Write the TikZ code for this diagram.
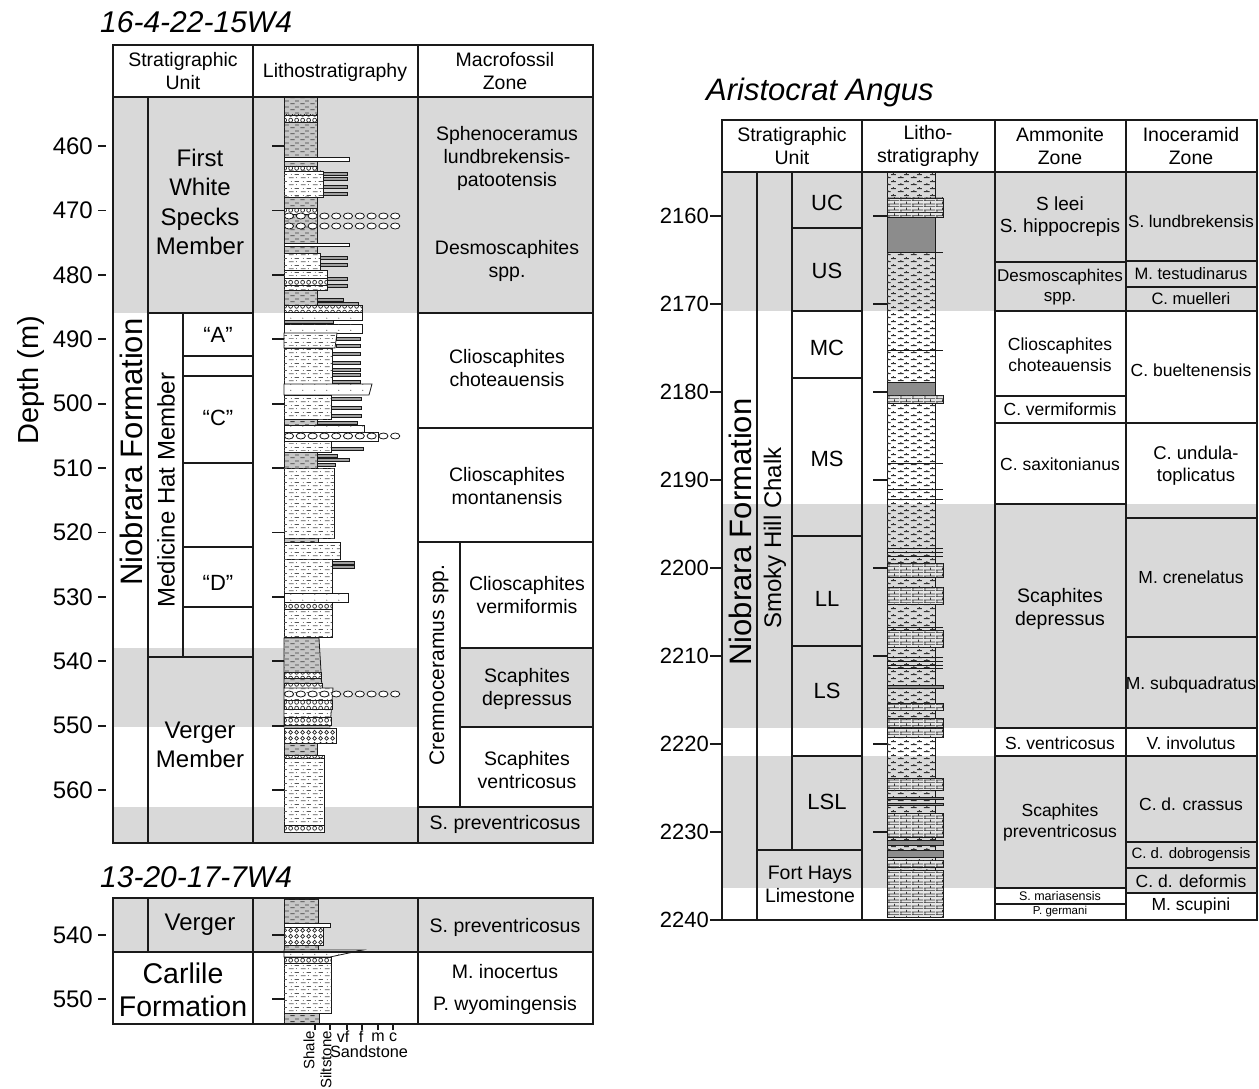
\documentclass[tikz,border=0pt]{standalone}
\usepackage{fontspec}
\setmainfont{Liberation Sans}
\usetikzlibrary{patterns}
\definecolor{band}{HTML}{D9D9D9}
\definecolor{ln}{HTML}{1A1A1A}
\definecolor{shg}{HTML}{C6C6C6}
\definecolor{dkg}{HTML}{8C8C8C}
\definecolor{thg}{HTML}{A0A0A0}
\newcommand{\fsz}[2]{\fontsize{#1}{#2}\selectfont}
\pgfdeclarepatternformonly{shaleP}{\pgfqpoint{0pt}{0pt}}{\pgfqpoint{10pt}{6pt}}{\pgfqpoint{10pt}{6pt}}{%
  \pgfsetlinewidth{0.9pt}%
  \pgfpathmoveto{\pgfqpoint{0.5pt}{1.5pt}}\pgfpathlineto{\pgfqpoint{5pt}{1.5pt}}%
  \pgfpathmoveto{\pgfqpoint{5.5pt}{4.5pt}}\pgfpathlineto{\pgfqpoint{9.5pt}{4.5pt}}%
  \pgfusepath{stroke}}
\pgfdeclarepatternformonly{siltP}{\pgfqpoint{0pt}{0pt}}{\pgfqpoint{12pt}{7pt}}{\pgfqpoint{12pt}{7pt}}{%
  \pgfsetlinewidth{0.8pt}%
  \pgfpathmoveto{\pgfqpoint{1pt}{1.5pt}}\pgfpathlineto{\pgfqpoint{6pt}{1.5pt}}%
  \pgfpathmoveto{\pgfqpoint{7pt}{5pt}}\pgfpathlineto{\pgfqpoint{11.5pt}{5pt}}%
  \pgfusepath{stroke}%
  \pgfpathcircle{\pgfqpoint{9pt}{1.5pt}}{0.55pt}%
  \pgfpathcircle{\pgfqpoint{3.5pt}{5pt}}{0.55pt}%
  \pgfusepath{fill}}
\pgfdeclarepatternformonly{xP}{\pgfqpoint{0pt}{0pt}}{\pgfqpoint{6pt}{6pt}}{\pgfqpoint{6pt}{6pt}}{%
  \pgfsetlinewidth{0.8pt}%
  \pgfpathcircle{\pgfqpoint{3pt}{3pt}}{2.2pt}%
  \pgfusepath{stroke}}
\pgfdeclarepatternformonly{sandP}{\pgfqpoint{0pt}{0pt}}{\pgfqpoint{12pt}{6pt}}{\pgfqpoint{12pt}{6pt}}{%
  \pgfpathcircle{\pgfqpoint{3pt}{3pt}}{0.6pt}%
  \pgfusepath{fill}}
\pgfdeclarepatternformonly{brickP}{\pgfqpoint{0pt}{0pt}}{\pgfqpoint{12pt}{6pt}}{\pgfqpoint{12pt}{6pt}}{%
  \pgfsetlinewidth{0.8pt}%
  \pgfpathmoveto{\pgfqpoint{0pt}{0.4pt}}\pgfpathlineto{\pgfqpoint{12pt}{0.4pt}}%
  \pgfpathmoveto{\pgfqpoint{0pt}{3.4pt}}\pgfpathlineto{\pgfqpoint{12pt}{3.4pt}}%
  \pgfpathmoveto{\pgfqpoint{1pt}{0.4pt}}\pgfpathlineto{\pgfqpoint{1pt}{3.4pt}}%
  \pgfpathmoveto{\pgfqpoint{7pt}{3.4pt}}\pgfpathlineto{\pgfqpoint{7pt}{6pt}}%
  \pgfusepath{stroke}}
\pgfdeclarepatternformonly{marlP}{\pgfqpoint{0pt}{0pt}}{\pgfqpoint{13pt}{7pt}}{\pgfqpoint{13pt}{7pt}}{%
  \pgfsetlinewidth{1pt}%
  \pgfpathmoveto{\pgfqpoint{1pt}{1.5pt}}\pgfpathlineto{\pgfqpoint{7pt}{1.5pt}}%
  \pgfpathmoveto{\pgfqpoint{4pt}{1.5pt}}\pgfpathlineto{\pgfqpoint{4pt}{3.2pt}}%
  \pgfpathmoveto{\pgfqpoint{7.5pt}{5pt}}\pgfpathlineto{\pgfqpoint{12.5pt}{5pt}}%
  \pgfpathmoveto{\pgfqpoint{10pt}{5pt}}\pgfpathlineto{\pgfqpoint{10pt}{6.7pt}}%
  \pgfusepath{stroke}}
\tikzset{
  tl/.style={draw=ln, line width=1.8pt},
  bd/.style={draw=ln, line width=0.8pt},
  shaleS/.style={bd, fill=shg, postaction={pattern=shaleP, pattern color=black!75}},
  siltS/.style={bd, fill=white, postaction={pattern=siltP, pattern color=black!65}},
  xhS/.style={bd, fill=white, postaction={pattern=xP, pattern color=black!85}},
  sandS/.style={bd, fill=white, postaction={pattern=sandP, pattern color=black!70}},
  tbS/.style={bd, fill=thg},
  tbw/.style={bd, fill=white},
  nodS/.style={draw=ln, line width=0.8pt, fill=white},
  marlS/.style={bd, postaction={pattern=marlP, pattern color=black!80}},
  limeS/.style={bd, fill=black!10, postaction={pattern=brickP, pattern color=black!80}},
  dkS/.style={bd, fill=dkg},
  tk/.style={draw=ln, line width=1.8pt},
  rl/.style={draw=ln, line width=1pt},
  zt/.style={font=\fsz{19.5}{23}, align=center, inner sep=0pt},
  zs/.style={font=\fsz{17.5}{21}, align=center, inner sep=0pt},
  bigt/.style={font=\fsz{24}{29.5}, align=center, inner sep=0pt},
  dlab/.style={font=\fsz{24}{28}, anchor=east, inner sep=0pt},
  dlabr/.style={font=\fsz{22}{26}, anchor=east, inner sep=0pt},
  ttl/.style={font=\fsz{30}{34}\itshape, anchor=west, inner sep=0pt},
}
\newcommand{\bedL}[4]{\path[#4] (284,#1) rectangle (#3,#2);}
\newcommand{\bedR}[4]{\path[#4] (887,#1) rectangle (#3,#2);}
\newcommand{\tb}[3]{\path[tbS] (#1,#2) rectangle (#3,#2+3);}
\newcommand{\nodrow}[1]{\foreach \i in {0,...,9} {\path[nodS] (289+11.8*\i,#1) ellipse (4.6 and 3);}}
\newcommand{\rline}[1]{\path[rl] (887,#1) -- (943,#1);}
\begin{document}
\begin{tikzpicture}[x=1pt,y=-1pt]
\useasboundingbox (0,0) rectangle (1259,1089);
\fill[white] (0,0) rectangle (1259,1089);

%================ LEFT PANEL =================
\node[ttl] (t1) at (100,22) {16-4-22-15W4};
% bands
\fill[band] (113,97) rectangle (593,313);
\fill[band] (113,648) rectangle (593,727);
\fill[band] (113,807) rectangle (593,843);
\fill[white] (418,542) rectangle (460,807);
% lithology
\bedL{97}{166}{317}{shaleS}
\bedL{115}{122}{317}{xhS}
\path[tbw] (284,157) rectangle (349,161);
\bedL{166}{171}{317}{xhS}
\bedL{171}{197}{323}{siltS}
\tb{323}{172}{347}\tb{323}{177}{347}\tb{323}{185}{347}\tb{323}{192}{347}
\bedL{197}{253}{317}{shaleS}
\bedL{208}{214}{317}{xhS}
\nodrow{216}\nodrow{226}
\path[tbw] (284,243) rectangle (349,246);
\bedL{253}{270}{320}{siltS}
\tb{320}{256}{347}\tb{320}{263}{347}
\bedL{270}{290}{327}{siltS}
\bedL{278}{285}{327}{xhS}
\tb{327}{277}{347}\tb{327}{284}{347}
\bedL{290}{305}{317}{shaleS}
\tb{317}{298}{343}\tb{317}{302}{358}
\bedL{305}{312}{362}{xhS}
\bedL{312}{320}{362}{sandS}
\bedL{320}{323}{333}{tbS}
\bedL{324}{333}{362}{sandS}
\path[siltS] (284,333) -- (337,333) -- (335,348) -- (284,348) -- cycle;
\tb{336}{337}{360}\tb{336}{344}{360}
\bedL{348}{384}{332}{siltS}
\tb{332}{352}{360}\tb{332}{361}{360}\tb{332}{368}{360}\tb{332}{373}{360}\tb{332}{380}{360}
\path[sandS] (284,384) -- (372,384) -- (369,395) -- (284,395) -- cycle;
\bedL{395}{419}{331}{siltS}
\tb{331}{397}{361}\tb{331}{406}{361}\tb{331}{414}{361}
\bedL{419}{425}{317}{shaleS}
\tb{317}{421}{357}
\bedL{425}{432}{364}{sandS}
\bedL{432}{441}{378}{sandS}
\nodrow{436}
\bedL{441}{452}{331}{siltS}
\tb{331}{447}{363}
\bedL{452}{468}{317}{shaleS}
\tb{317}{454}{337}\tb{317}{458}{349}\tb{317}{463}{335}
\bedL{468}{538}{334}{siltS}
\bedL{538}{542}{318}{shaleS}
\bedL{542}{559}{340}{siltS}
\bedL{559}{593}{332}{siltS}
\tb{332}{561}{354}\tb{332}{565}{354}
\bedL{593}{602}{348}{sandS}
\bedL{602}{609}{332}{xhS}
\bedL{609}{637}{332}{siltS}
\path[shaleS] (284,638) -- (319,638) -- (322,688) -- (284,688) -- cycle;
\bedL{672}{678}{321}{xhS}
\bedL{683}{688}{322}{xhS}
\path[siltS] (284,688) -- (333,688) -- (330,727) -- (284,727) -- cycle;
\bedL{700}{709}{332}{xhS}
\bedL{717}{725}{331}{xhS}
\nodrow{694}
\bedL{728}{743}{336}{xhS}
\bedL{743}{755}{317}{shaleS}
\bedL{755}{758}{324}{xhS}
\bedL{758}{832}{324}{siltS}
\bedL{825}{832}{324}{xhS}
% table lines
\path[tl] (113,45) rectangle (593,843);
\path[tl] (113,97) -- (593,97);
\path[tl] (148,97) -- (148,843);
\path[tl] (253,45) -- (253,843);
\path[tl] (418,45) -- (418,843);
\path[tl] (148,313) -- (253,313);
\path[tl] (183,313) -- (183,657);
\path[tl] (148,657) -- (253,657);
\foreach \yy in {356,376,463,547,607} {\path[tl] (183,\yy) -- (253,\yy);}
\foreach \yy in {313,428,542,807} {\path[tl] (418,\yy) -- (593,\yy);}
\foreach \yy in {648,727} {\path[tl] (460,\yy) -- (593,\yy);}
\path[tl] (460,542) -- (460,807);
% depth ticks and labels
\foreach \d [count=\k from 0] in {460,470,480,490,500,510,520,530,540,550,560} {
  \path[tk] (98,146+64.4*\k) -- (106,146+64.4*\k);
  \path[tk] (272,146+64.4*\k) -- (284,146+64.4*\k);
  \node[dlab] (dl\d) at (93,146+64.4*\k) {\d};
}
\node[font=\fsz{29}{32}, rotate=90, inner sep=0pt] (depth) at (31,380) {Depth (m)};
% texts
\node[zt] (h1) at (183,71) {Stratigraphic\\Unit};
\node[zt] (h2) at (335,72) {Lithostratigraphy};
\node[zt] (h3) at (505,71) {Macrofossil\\Zone};
\node[bigt] (fws) at (200,202) {First\\White\\Specks\\Member};
\node[font=\fsz{31}{34}, rotate=90, inner sep=0pt] (nio1) at (131,452) {Niobrara Formation};
\node[font=\fsz{24}{28}, rotate=90, inner sep=0pt] (mhm) at (166,490) {Medicine Hat Member};
\node[font=\fsz{22}{26}, inner sep=0pt] (ua) at (218,335) {“A”};
\node[font=\fsz{22}{26}, inner sep=0pt] (uc) at (218,418) {“C”};
\node[font=\fsz{22}{26}, inner sep=0pt] (ud) at (218,583) {“D”};
\node[bigt] (verg) at (200,745) {Verger\\Member};
\node[zt] (m1) at (507,158) {Sphenoceramus\\lundbrekensis-\\patootensis};
\node[zt] (m2) at (507,261) {Desmoscaphites\\spp.};
\node[zt] (m3) at (507,368) {Clioscaphites\\choteauensis};
\node[zt] (m4) at (507,486) {Clioscaphites\\montanensis};
\node[font=\fsz{21}{24}, rotate=90, inner sep=0pt] (crem) at (439,665) {Cremnoceramus spp.};
\node[zt] (m5) at (527,595) {Clioscaphites\\vermiformis};
\node[zt] (m6) at (527,689) {Scaphites\\depressus};
\node[zt] (m7) at (527,770) {Scaphites\\ventricosus};
\node[zt] (m8) at (505,824) {S. preventricosus};

%================ LOWER LEFT =================
\node[ttl] (t2) at (100,877) {13-20-17-7W4};
\fill[band] (113,898) rectangle (593,952);
\bedL{899}{950}{318}{shaleS}
\path[tbw] (284,923) rectangle (330,927);
\bedL{927}{945}{323}{xhS}
\path[sandS] (284,950) -- (363,950) -- (330,957) -- (284,957) -- cycle;
\bedL{957}{963}{331}{xhS}
\bedL{963}{1013}{331}{siltS}
\bedL{1013}{1024}{319}{shaleS}
\path[tl] (113,898) rectangle (593,1024);
\path[tl] (148,898) -- (148,952);
\path[tl] (253,898) -- (253,1024);
\path[tl] (418,898) -- (418,1024);
\path[tl] (113,952) -- (593,952);
\foreach \d [count=\k from 0] in {540,550} {
  \path[tk] (98,935+64*\k) -- (106,935+64*\k);
  \path[tk] (272,935+64*\k) -- (284,935+64*\k);
  \node[dlab] (dm\d) at (93,935+64*\k) {\d};
}
\node[bigt] (verg2) at (200,925) {Verger};
\node[font=\fsz{28.5}{33}, align=center, inner sep=0pt] (carl) at (183,990) {Carlile\\Formation};
\node[zt] (b1) at (505,927) {S. preventricosus};
\node[zt] (b2) at (505,972) {M. inocertus};
\node[zt] (b3) at (505,1005) {P. wyomingensis};
% grain-size legend
\foreach \xx in {315,330,347,362,378,393} {\path[bd, line width=1.2pt] (\xx,1024) -- (\xx,1030);}
\node[font=\fsz{15}{17}, rotate=90, anchor=east, inner sep=0pt] (lsh) at (309,1031) {Shale};
\node[font=\fsz{15}{17}, rotate=90, anchor=east, inner sep=0pt] (lsi) at (326,1031) {Siltstone};
\node[font=\fsz{16}{18}, inner sep=0pt] (lvf) at (343,1037) {vf};
\node[font=\fsz{16}{18}, inner sep=0pt] (lf) at (361,1037) {f};
\node[font=\fsz{16}{18}, inner sep=0pt] (lm) at (378,1037) {m};
\node[font=\fsz{16}{18}, inner sep=0pt] (lc) at (393,1037) {c};
\node[font=\fsz{16.3}{18}, inner sep=0pt] (lsa) at (369,1052) {Sandstone};

%================ RIGHT PANEL =================
\node[ttl, font=\fsz{31}{34}\itshape] (t3) at (706,92) {Aristocrat Angus};
\fill[band] (722,172) rectangle (1257,311);
\fill[band] (722,504) rectangle (1257,728);
\fill[band] (722,756) rectangle (1257,888);
\fill[band] (1126,888) rectangle (1257,893);
% lithology
\path[marlS] (887,172) rectangle (935,917);
\bedR{198}{212}{943}{limeS}
\bedR{212}{217}{943}{limeS}
\bedR{217}{252}{935}{dkS}
\rline{252}\rline{350}
\bedR{382}{395}{935}{dkS}
\bedR{395}{403}{943}{limeS}
\rline{463}\rline{489}\rline{499}
\rline{548}\rline{552}\rline{556}
\bedR{563}{577}{943}{limeS}
\bedR{587}{604}{943}{limeS}
\rline{627}
\bedR{630}{647}{943}{limeS}
\rline{657}\rline{661}\rline{665}\rline{668}
\bedR{685}{688}{943}{dkS}
\bedR{703}{710}{943}{limeS}
\bedR{718}{727}{943}{limeS}
\bedR{728}{737}{943}{limeS}
\bedR{778}{790}{943}{limeS}
\bedR{797}{799}{943}{dkS}
\bedR{803}{805}{943}{dkS}
\bedR{813}{837}{943}{limeS}
\bedR{840}{845}{943}{dkS}
\bedR{850}{857}{943}{dkS}
\bedR{860}{867}{943}{limeS}
\bedR{870}{917}{943}{limeS}
% table lines
\path[tl] (722,120) rectangle (1257,920);
\path[tl] (722,172) -- (1257,172);
\path[tl] (757,172) -- (757,920);
\path[tl] (792,172) -- (792,850);
\path[tl] (862,120) -- (862,920);
\path[tl] (995,120) -- (995,920);
\path[tl] (1126,120) -- (1126,920);
\foreach \yy in {228,311,378,536,646,756} {\path[tl] (792,\yy) -- (862,\yy);}
\path[tl] (757,850) -- (862,850);
\foreach \yy in {262,311,396,423,504,728,756,888,904} {\path[tl] (995,\yy) -- (1126,\yy);}
\foreach \yy in {261,287,311,423,518,637,728,756,842,868,893} {\path[tl] (1126,\yy) -- (1257,\yy);}
% depth
\foreach \d [count=\k from 0] in {2160,2170,2180,2190,2200,2210,2220,2230,2240} {
  \path[tk] (710,216+88*\k) -- (722,216+88*\k);
  \node[dlabr] (dr\d) at (709,216+88*\k) {\d};
}
\foreach \k in {0,...,7} {\path[tk] (873,216+88*\k) -- (887,216+88*\k);}
% texts
\node[zt] (rh1) at (792,146) {Stratigraphic\\Unit};
\node[zt] (rh2) at (928,146) {Litho-\\stratigraphy};
\node[zt] (rh3) at (1060,146) {Ammonite\\Zone};
\node[zt] (rh4) at (1191,146) {Inoceramid\\Zone};
\node[font=\fsz{31}{34}, rotate=90, inner sep=0pt] (nio2) at (740,532) {Niobrara Formation};
\node[font=\fsz{24}{28}, rotate=90, inner sep=0pt] (shc) at (775,538) {Smoky Hill Chalk};
\node[font=\fsz{22}{26}, inner sep=0pt] (uUC) at (827,203) {UC};
\node[font=\fsz{22}{26}, inner sep=0pt] (uUS) at (827,271) {US};
\node[font=\fsz{22}{26}, inner sep=0pt] (uMC) at (827,348) {MC};
\node[font=\fsz{22}{26}, inner sep=0pt] (uMS) at (827,459) {MS};
\node[font=\fsz{22}{26}, inner sep=0pt] (uLL) at (827,599) {LL};
\node[font=\fsz{22}{26}, inner sep=0pt] (uLS) at (827,691) {LS};
\node[font=\fsz{22}{26}, inner sep=0pt] (uLSL) at (827,802) {LSL};
\node[zt] (fh) at (810,884) {Fort Hays\\Limestone};
\node[zt, font=\fsz{19}{22}] (a1) at (1060,217) {S leei\\S. hippocrepis};
\node[zs, font=\fsz{17}{20}] (a2) at (1060,287) {Desmoscaphites\\spp.};
\node[zs] (a3) at (1060,355) {Clioscaphites\\choteauensis};
\node[zs] (a4) at (1060,409) {C. vermiformis};
\node[zs] (a5) at (1060,464) {C. saxitonianus};
\node[zt] (a6) at (1060,609) {Scaphites\\depressus};
\node[zs] (a7) at (1060,743) {S. ventricosus};
\node[zs] (a8) at (1060,822) {Scaphites\\preventricosus};
\node[font=\fsz{12.5}{14}, inner sep=0pt] (a9) at (1060,896) {S. mariasensis};
\node[font=\fsz{11.5}{13}, inner sep=0pt] (a10) at (1060,912) {P. germani};
\node[zs, font=\fsz{17}{20}] (i1) at (1191,221) {S. lundbrekensis};
\node[zs, font=\fsz{16.5}{19}] (i2) at (1191,274) {M. testudinarus};
\node[zs, font=\fsz{16.5}{19}] (i3) at (1191,299) {C. muelleri};
\node[zs] (i4) at (1191,370) {C. bueltenensis};
\node[zs, font=\fsz{18.5}{22}] (i5) at (1196,466) {C. undula-\\toplicatus};
\node[zs] (i6) at (1191,577) {M. crenelatus};
\node[zs] (i7) at (1191,685) {M. subquadratus};
\node[zs] (i8) at (1191,743) {V. involutus};
\node[zs] (i9) at (1191,804) {C. d. crassus};
\node[font=\fsz{15}{17}, inner sep=0pt] (i10) at (1191,855) {C. d. dobrogensis};
\node[zs] (i11) at (1191,881) {C. d. deformis};
\node[zs] (i12) at (1191,906) {M. scupini};
\end{tikzpicture}
\end{document}
